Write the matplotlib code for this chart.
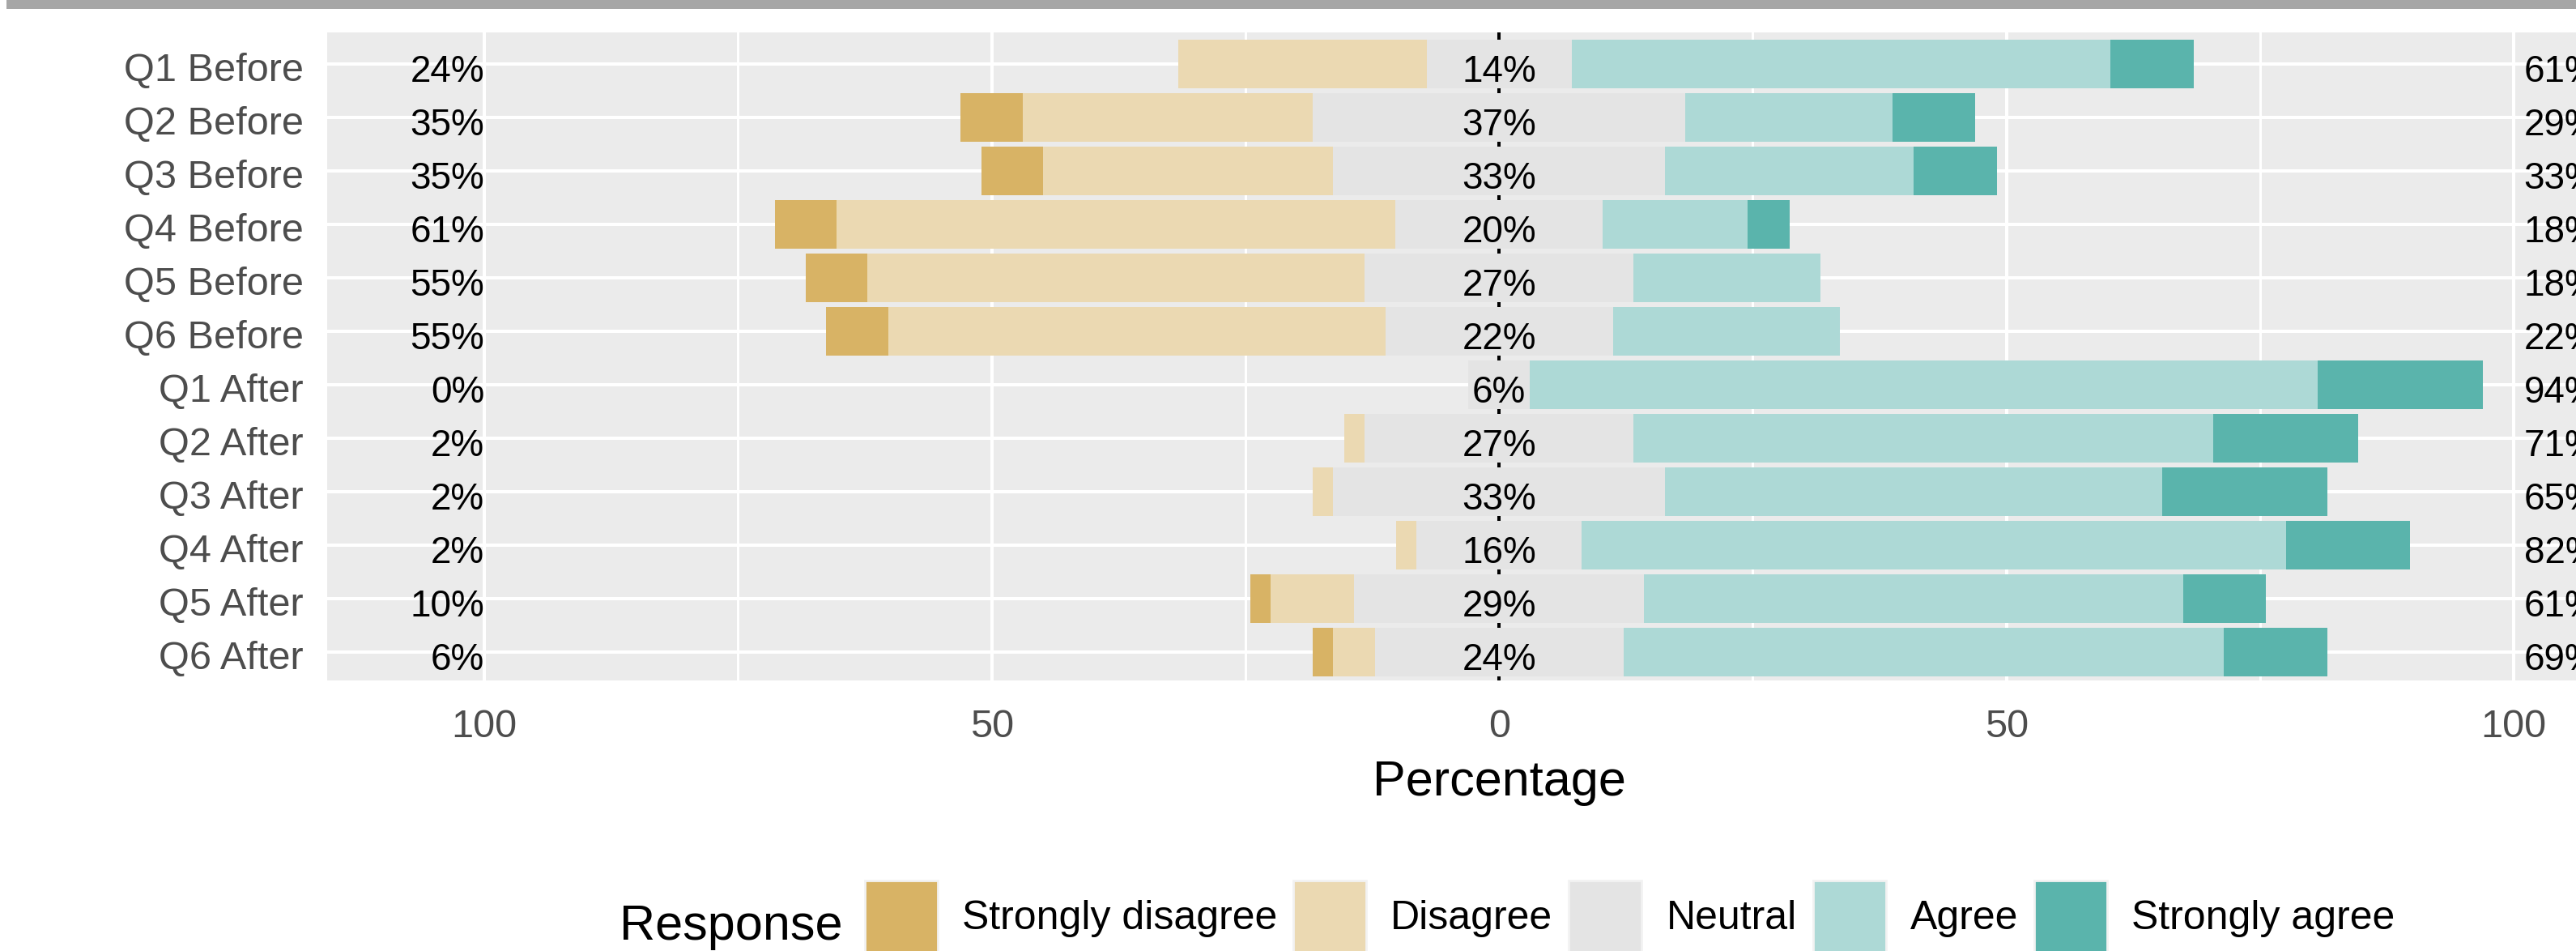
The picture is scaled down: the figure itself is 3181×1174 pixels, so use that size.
import numpy as np
import matplotlib
matplotlib.use('Agg')
import matplotlib.pyplot as plt
import matplotlib.patches as mpatches
import matplotlib.transforms as mtransforms

plt.rcParams['font.family'] = ['Liberation Sans', 'DejaVu Sans']

questions = ['Q1 Before', 'Q2 Before', 'Q3 Before', 'Q4 Before', 'Q5 Before', 'Q6 Before',
             'Q1 After', 'Q2 After', 'Q3 After', 'Q4 After', 'Q5 After', 'Q6 After']

# percent of responses per item
strongly_disagree = [0.0, 6.1, 6.1, 6.1, 6.1, 6.1, 0.0, 0.0, 0.0, 0.0, 2.0, 2.0]
disagree = [24.5, 28.6, 28.6, 55.1, 49.0, 49.0, 0.0, 2.0, 2.0, 2.0, 8.2, 4.1]
neutral = [14.3, 36.7, 32.7, 20.4, 26.5, 22.4, 6.1, 26.5, 32.7, 16.3, 28.6, 24.5]
agree = [53.1, 20.4, 24.5, 14.3, 18.4, 22.4, 77.6, 57.1, 49.0, 69.4, 53.1, 59.2]
strongly_agree = [8.2, 8.2, 8.2, 4.1, 0.0, 0.0, 16.3, 14.3, 16.3, 12.2, 8.2, 10.2]

low_labels = ['24%', '35%', '35%', '61%', '55%', '55%', '0%', '2%', '2%', '2%', '10%', '6%']
neutral_labels = ['14%', '37%', '33%', '20%', '27%', '22%', '6%', '27%', '33%', '16%', '29%', '24%']
high_labels = ['61%', '29%', '33%', '18%', '18%', '22%', '94%', '71%', '65%', '82%', '61%', '69%']

responses = ['Strongly disagree', 'Disagree', 'Neutral', 'Agree', 'Strongly agree']
colors = ['#D8B365', '#EBD9B2', '#E4E4E4', '#ADD9D6', '#5AB4AC']

W, H = 3181, 1174


def px_x(x):
    return x / W


def px_y(y):
    return 1 - y / H


def draw_bars(ax):
    rows = np.arange(len(questions))
    sd = np.array(strongly_disagree)
    d = np.array(disagree)
    n = np.array(neutral)
    a = np.array(agree)
    sa = np.array(strongly_agree)

    h = 0.9
    ax.barh(rows, d, left=-n / 2 - d, height=h, color=colors[1], zorder=2)
    ax.barh(rows, sd, left=-n / 2 - d - sd, height=h, color=colors[0], zorder=2)
    ax.barh(rows, n, left=-n / 2, height=h, color=colors[2], zorder=2)
    ax.barh(rows, a, left=n / 2, height=h, color=colors[3], zorder=2)
    ax.barh(rows, sa, left=n / 2 + a, height=h, color=colors[4], zorder=2)

    for i in rows:
        ax.text(-100, i + 0.33, low_labels[i], ha='right', va='baseline', fontsize=33, color='black', zorder=4)
        ax.text(0, i + 0.33, neutral_labels[i], ha='center', va='baseline', fontsize=33, color='black', zorder=4)
        ax.text(101, i + 0.33, high_labels[i], ha='left', va='baseline', fontsize=33, color='black', zorder=4)

    ax.axvline(0, color='black', lw=2.9, zorder=1.5)


def style_axes(fig, ax):
    ax.set_facecolor('#EBEBEB')
    for s in ax.spines.values():
        s.set_visible(False)
    ax.set_xlim(-115.5, 115.5)
    ax.set_ylim(11.53, -0.59)

    ax.set_yticks(np.arange(len(questions)))
    ax.set_yticklabels(questions)
    ax.set_xticks([-100, -50, 0, 50, 100])
    ax.set_xticklabels(['100', '50', '0', '50', '100'])
    ax.set_xticks([-75, -25, 25, 75], minor=True)

    ax.tick_params(axis='both', which='both', length=0, labelsize=35, labelcolor='#4D4D4D')
    ax.tick_params(axis='x', pad=25)
    ax.tick_params(axis='y', pad=21)

    # nudge the row names a few pixels down
    shift = mtransforms.ScaledTranslation(0, -3.5 / 100, fig.dpi_scale_trans)
    for lab in ax.get_yticklabels():
        lab.set_transform(lab.get_transform() + shift)

    ax.set_axisbelow(True)
    ax.grid(True, which='major', color='white', lw=2.9)
    ax.grid(True, which='minor', axis='x', color='white', lw=2.2)

    ax.set_xlabel('Percentage', fontsize=44, labelpad=13, color='black')


def draw_legend(fig):
    handles = [mpatches.Patch(facecolor=c, edgecolor='#F2F2F2', linewidth=2.0) for c in colors]
    fig.legend(handles, responses, loc='upper left',
               bbox_to_anchor=(px_x(1068), px_y(1087)), ncol=5, frameon=False,
               fontsize=36, handlelength=1.8, handleheight=2.39, handletextpad=0.6,
               columnspacing=0.4, borderpad=0, borderaxespad=0)
    fig.text(px_x(765), px_y(1160), 'Response', fontsize=44, ha='left', va='baseline')


def main():
    fig = plt.figure(figsize=(W / 100, H / 100), dpi=100)
    # grey strip along the top edge
    fig.add_artist(mpatches.Rectangle((px_x(8), px_y(11)), 1, 11 / H,
                                      transform=fig.transFigure, color='#A6A6A6', lw=0))

    left, top, bottom = 404, 40, 840
    width = 2 * 115.5 * 12.53
    ax = fig.add_axes([px_x(left), px_y(bottom), width / W, (bottom - top) / H])

    style_axes(fig, ax)
    draw_bars(ax)
    draw_legend(fig)

    fig.savefig('out.png', dpi=100)


if __name__ == "__main__":
    main()
